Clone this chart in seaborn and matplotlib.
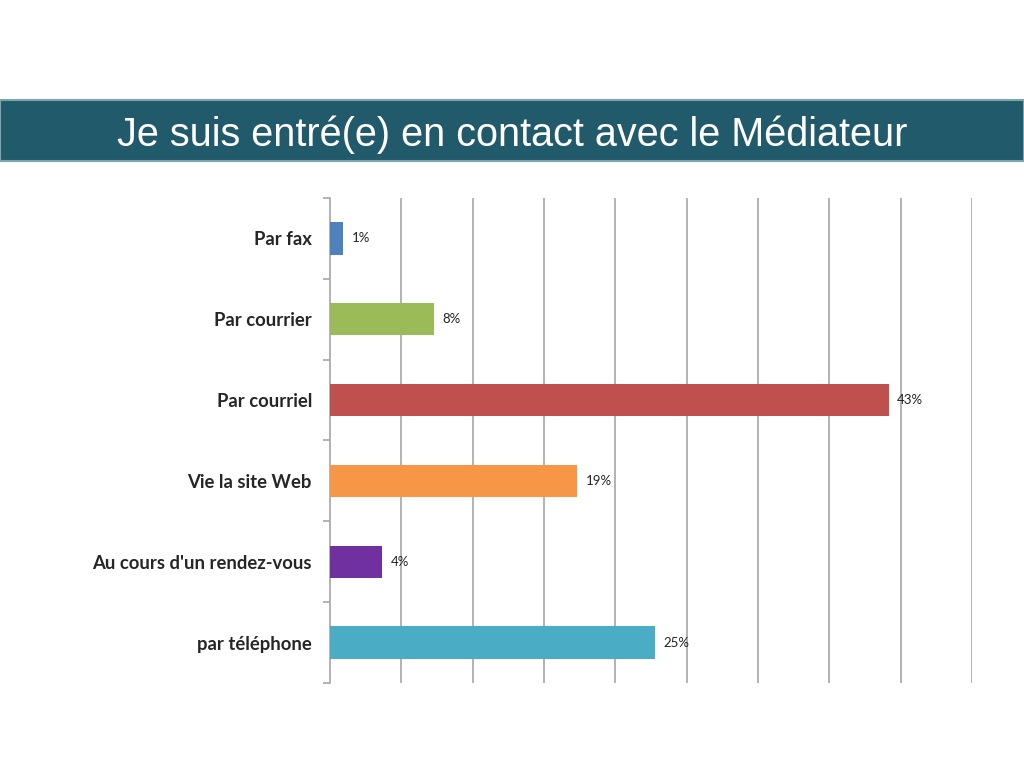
import matplotlib
matplotlib.use('Agg')
import matplotlib.pyplot as plt
import seaborn as sns
import pandas as pd
from matplotlib.patches import Rectangle

# ─── Data ─────────────────────────────────────────────────────────────────────
categories = ["Par fax", "Par courrier", "Par courriel", "Vie la site Web",
              "Au cours d'un rendez-vous", "par téléphone"]
values     = [1, 8, 43, 19, 4, 25]
colors     = ["#4F81BD", "#9BBB59", "#C0504D", "#F79646", "#7030A0", "#4BACC6"]
title      = "Je suis entré(e) en contact avec le Médiateur"

df = pd.DataFrame({"mode": categories, "pct": values})

# ─── Style ────────────────────────────────────────────────────────────────────
sns.set_style("white")
plt.rcParams['font.family'] = ['Lato', 'DejaVu Sans']

fig = plt.figure(figsize=(10.24, 7.68), dpi=100)
ax = fig.add_axes([330/1024, 1 - 683/768, 642/1024, 485/768])

sns.barplot(data=df, y="mode", x="pct", hue="mode", palette=colors,
            legend=False, width=0.4, saturation=1, linewidth=0, ax=ax, zorder=3)

# vertical gridlines (9 of them, evenly spaced)
step = 49.4 / 9
ax.set_xlim(0, 49.4)
ax.set_ylim(len(categories) - 0.5, -0.5)
for i in range(1, 10):
    ax.axvline(i * step, color="#A6A6A6", lw=1.2, zorder=1)

for i, v in enumerate(values):
    ax.text(v + 0.65, i, f"{v}%", va="center", ha="left", fontsize=9.5, color="#222222")

ax.set_xticks([])
ax.set_yticks([i - 0.5 for i in range(len(categories) + 1)], minor=True)
ax.set_yticks(range(len(categories)))
ax.set_yticklabels(categories, fontsize=13.3, fontweight="bold")
ax.tick_params(axis="y", which="major", length=0, pad=13)
ax.tick_params(axis="y", which="minor", left=True, length=5, color="#A6A6A6", width=1.2)
ax.set_xlabel("")
ax.set_ylabel("")
for s in ["top", "right", "bottom"]:
    ax.spines[s].set_visible(False)
ax.spines["left"].set_color("#A6A6A6")
ax.spines["left"].set_linewidth(1.2)

# ─── Title banner ─────────────────────────────────────────────────────────────
fig.patches.append(Rectangle((0, 1 - 161/768), 1, 61/768, transform=fig.transFigure,
                             facecolor="#215A6B", edgecolor="#7FA3AE", lw=1.5))
fig.text(0.5, 1 - 135/768, title, ha="center", va="center", color="white",
         fontsize=28.5, family=["Liberation Sans", "DejaVu Sans"])

fig.savefig("out.png", dpi=100)
